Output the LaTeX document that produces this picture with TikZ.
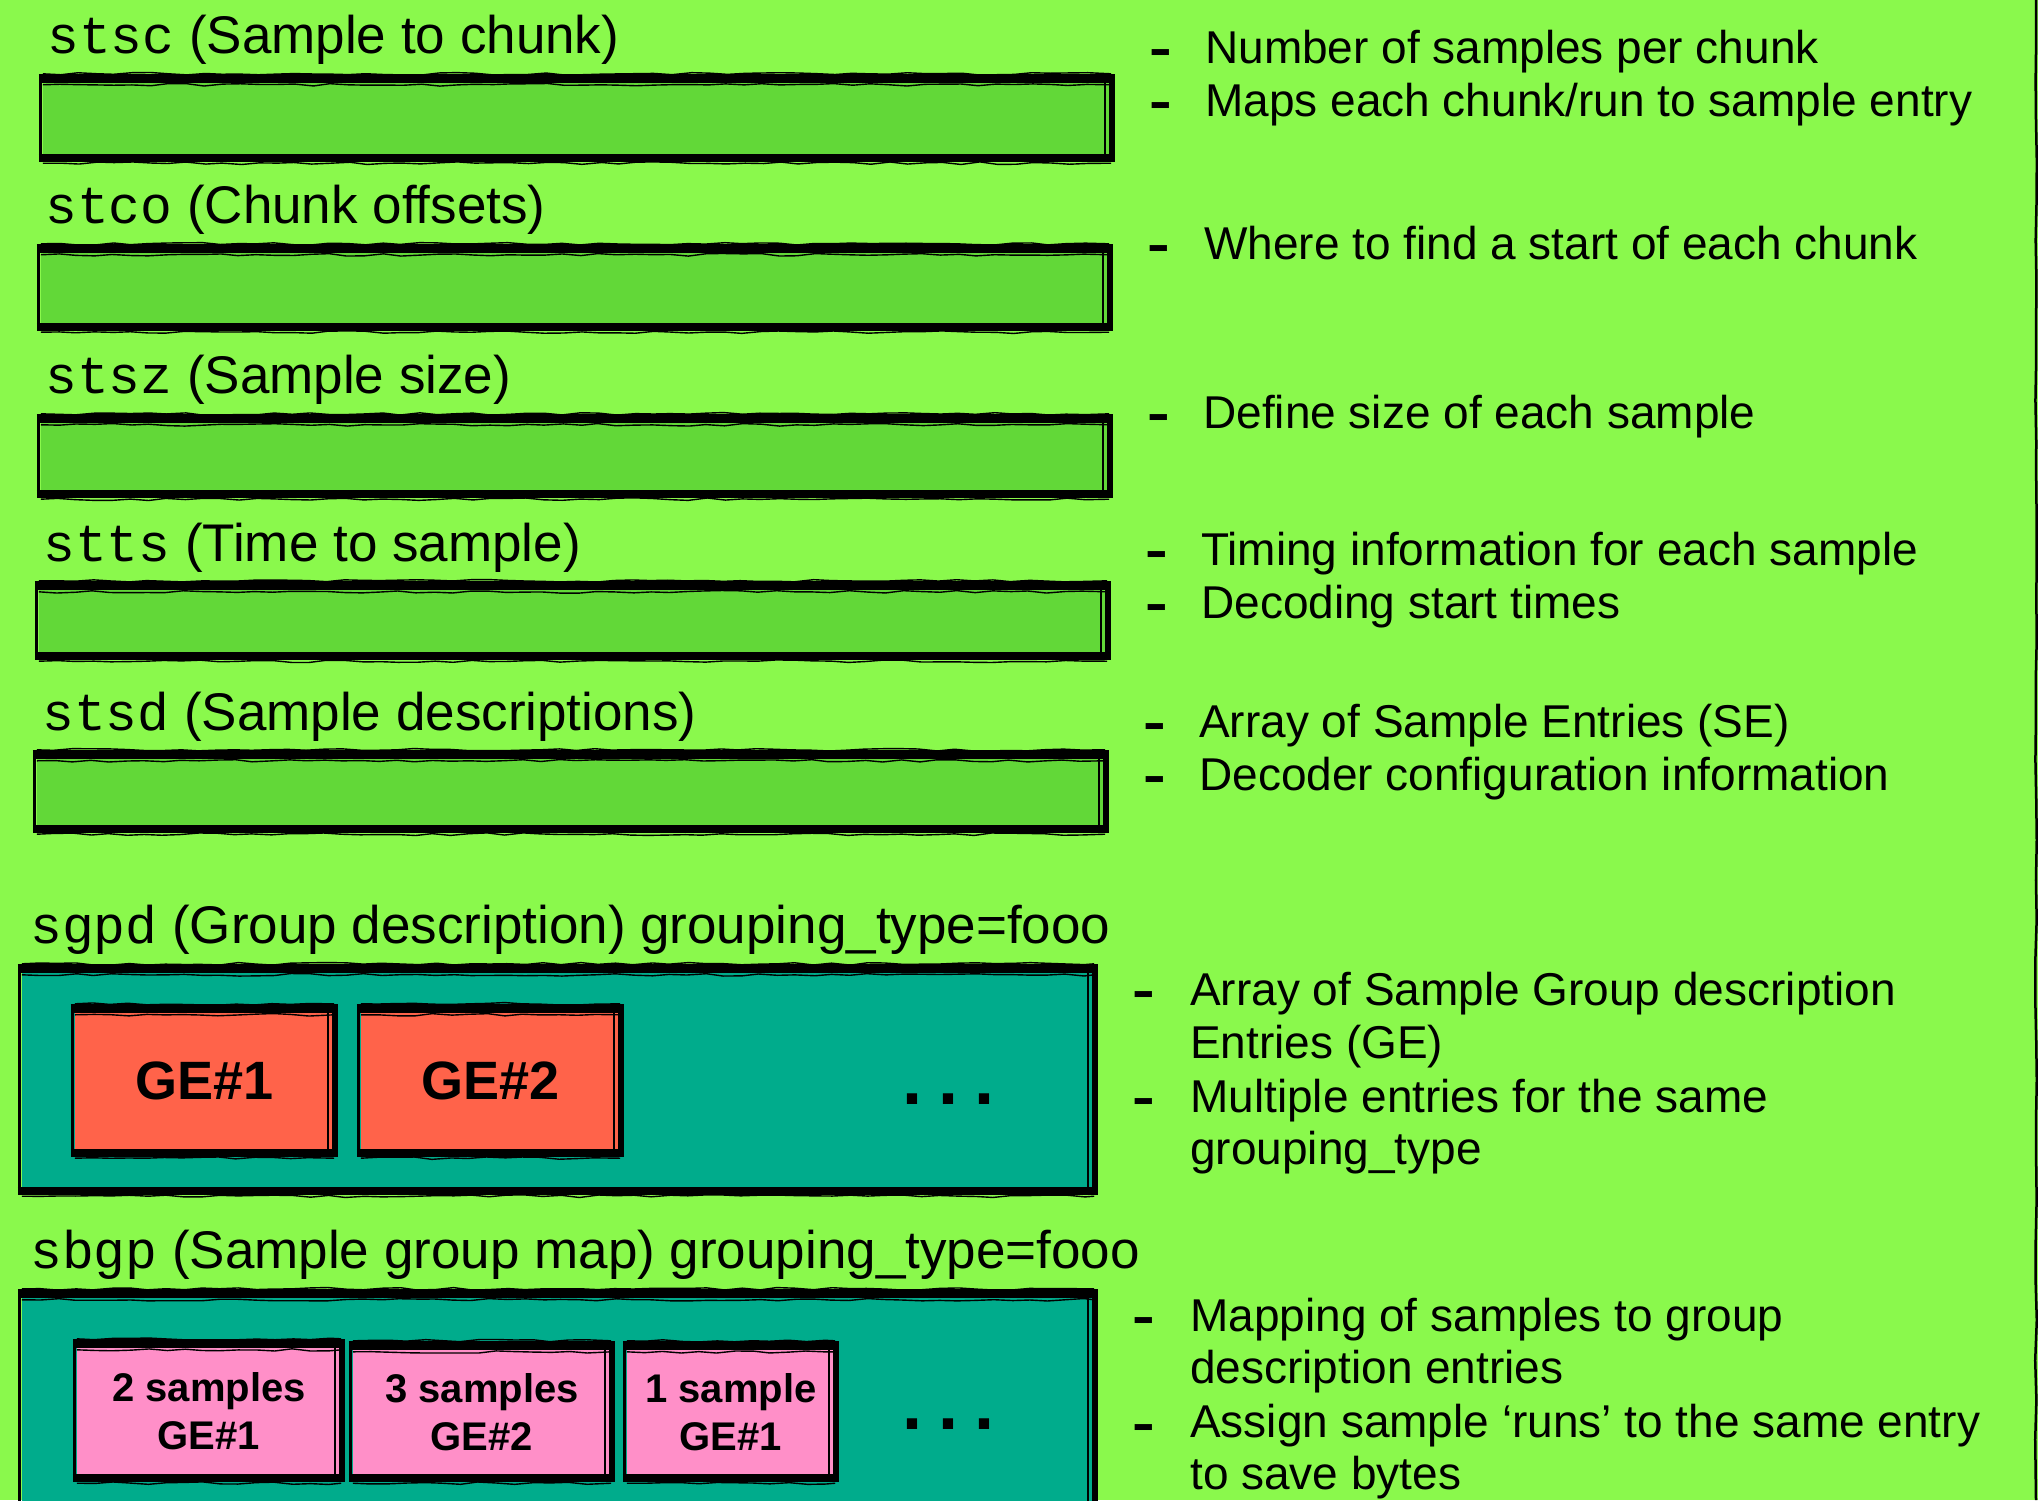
\documentclass[tikz,border=0pt]{standalone}
\usepackage{fontspec}
\usepackage{graphicx}
\setmainfont{Liberation Sans}
\setmonofont{Liberation Mono}
\usetikzlibrary{decorations.pathmorphing}
\definecolor{bgc}{RGB}{138,249,76}
\definecolor{boxgreen}{RGB}{98,216,56}
\definecolor{tealc}{RGB}{0,172,140}
\definecolor{tomatoc}{RGB}{255,99,74}
\definecolor{pinkc}{RGB}{255,143,200}
\tikzset{
  title/.style={anchor=base west, inner sep=0pt, font=\fontsize{53}{60}\selectfont},
  desc/.style={anchor=base west, inner sep=0pt, font=\fontsize{46}{53}\selectfont},
  bullet/.style={anchor=base west, inner sep=0pt, font=\fontsize{40}{40}\selectfont\bfseries},
  greenbox/.style={fill=boxgreen},
  tealbox/.style={fill=tealc},
  gebox/.style={fill=tomatoc, font=\fontsize{54}{60}\selectfont\bfseries},
  pinkbox/.style={fill=pinkc, align=center, font=\fontsize{40}{48}\selectfont\bfseries},
  dotstyle/.style={inner sep=0pt, font=\fontsize{72}{72}\selectfont\bfseries},
  rough/.style={line width=1.4pt, decorate, decoration={random steps, segment length=18pt, amplitude=1.3pt}},
}
\newcommand\dashmark{\scalebox{1.7}[1.25]{-}}
\newcommand\skbox[7]{%
  \node[#6, inner sep=0pt, minimum width={#4-#2-8}, minimum height={#5-#3-8}] (#1) at ({(#2+#4)/2},{(#3+#5)/2}) {#7};
  \draw[line width=9pt] ([xshift=-4pt]#1.north west) -- ([xshift=4pt]#1.north east);
  \draw[line width=8pt] ([xshift=-4pt]#1.south west) -- ([xshift=4pt]#1.south east);
  \draw[line width=3pt] ([xshift=-2pt]#1.north west) -- ([xshift=-2pt]#1.south west);
  \draw[line width=6pt] ([xshift=1pt]#1.north east) -- ([xshift=1pt]#1.south east);
  \draw[line width=1.5pt] ([xshift=-6pt,yshift=-4pt]#1.north east) -- ([xshift=-6pt,yshift=4pt]#1.south east);
  \draw[rough] ([yshift=5pt]#1.north west) -- ([yshift=5pt]#1.north east);
  \draw[rough] ([yshift=-5pt]#1.south west) -- ([yshift=-5pt]#1.south east);
  \draw[rough] ([yshift=-6pt]#1.north west) -- ([yshift=-6pt]#1.north east);
}
\begin{document}
\begin{tikzpicture}[x=1pt,y=-1pt]
\pgfmathsetseed{7}
\useasboundingbox (0,0) rectangle (2038,1500);
\clip (0,0) rectangle (2038,1500);
\fill[bgc] (0,0) rectangle (2038,1500);
\draw[line width=2.5pt, decorate, decoration={random steps, segment length=40pt, amplitude=0.8pt}] (2036,0) -- (2036,1500);

% titles
\node[title] (t1) at (47,53) {\texttt{stsc} (Sample to chunk)};
\node[title] (t2) at (45,223) {\texttt{stco} (Chunk offsets)};
\node[title] (t3) at (45,393) {\texttt{stsz} (Sample size)};
\node[title] (t4) at (43,561) {\texttt{stts} (Time to sample)};
\node[title] (t5) at (42,730) {\texttt{stsd} (Sample descriptions)};
\node[title] (t6) at (30,943) {\texttt{sgpd} (Group description) grouping\_type=fooo};
\node[title] (t7) at (30,1268) {\texttt{sbgp} (Sample group map) grouping\_type=fooo};

% boxes
\skbox{b1}{39}{75}{1115}{162}{greenbox}{}
\skbox{b2}{37}{245}{1113}{331}{greenbox}{}
\skbox{b3}{37}{415}{1113}{498}{greenbox}{}
\skbox{b4}{35}{582}{1111}{660}{greenbox}{}
\skbox{b5}{33}{751}{1109}{833}{greenbox}{}
\skbox{sg}{18}{965}{1098}{1195}{tealbox}{}
\skbox{ge1}{71}{1005}{338}{1157}{gebox}{GE\#1}
\skbox{ge2}{357}{1005}{624}{1157}{gebox}{GE\#2}
\skbox{sb}{18}{1290}{1098}{1540}{tealbox}{}
\skbox{p1}{73}{1340}{345}{1482}{pinkbox}{2 samples\\GE\#1}
\skbox{p2}{349}{1342}{615}{1482}{pinkbox}{3 samples\\GE\#2}
\skbox{p3}{623}{1342}{839}{1482}{pinkbox}{1 sample\\GE\#1}

\node[dotstyle] (dots1) at (948,1099) {.\hspace{16pt}.\hspace{16pt}.};
\node[dotstyle] (dots2) at (948,1424) {.\hspace{16pt}.\hspace{16pt}.};

% bullets
\node[bullet] (d1) at (1149,65) {\dashmark};
\node[bullet] (d2) at (1149,118) {\dashmark};
\node[bullet] (d3) at (1147,261) {\dashmark};
\node[bullet] (d4) at (1147,430) {\dashmark};
\node[bullet] (d5) at (1145,567) {\dashmark};
\node[bullet] (d6) at (1145,620) {\dashmark};
\node[bullet] (d7) at (1143,739) {\dashmark};
\node[bullet] (d8) at (1143,792) {\dashmark};
\node[bullet] (d9) at (1132,1007) {\dashmark};
\node[bullet] (d10) at (1132,1114) {\dashmark};
\node[bullet] (d11) at (1132,1333) {\dashmark};
\node[bullet] (d12) at (1132,1440) {\dashmark};

% descriptions
\node[desc] (r1) at (1205,63) {Number of samples per chunk};
\node[desc] (r2) at (1205,116) {Maps each chunk/run to sample entry};
\node[desc] (r3) at (1204,259) {Where to find a start of each chunk};
\node[desc] (r4) at (1203,428) {Define size of each sample};
\node[desc] (r5) at (1201,565) {Timing information for each sample};
\node[desc] (r6) at (1201,618) {Decoding start times};
\node[desc] (r7) at (1199,737) {Array of Sample Entries (SE)};
\node[desc] (r8) at (1199,790) {Decoder configuration information};
\node[desc] (r9) at (1190,1005) {Array of Sample Group description};
\node[desc] (r10) at (1190,1058) {Entries (GE)};
\node[desc] (r11) at (1190,1112) {Multiple entries for the same};
\node[desc] (r12) at (1190,1164) {grouping\_type};
\node[desc] (r13) at (1190,1331) {Mapping of samples to group};
\node[desc] (r14) at (1190,1383) {description entries};
\node[desc] (r15) at (1190,1437) {Assign sample ‘runs’ to the same entry};
\node[desc] (r16) at (1190,1489) {to save bytes};
\end{tikzpicture}
\end{document}
